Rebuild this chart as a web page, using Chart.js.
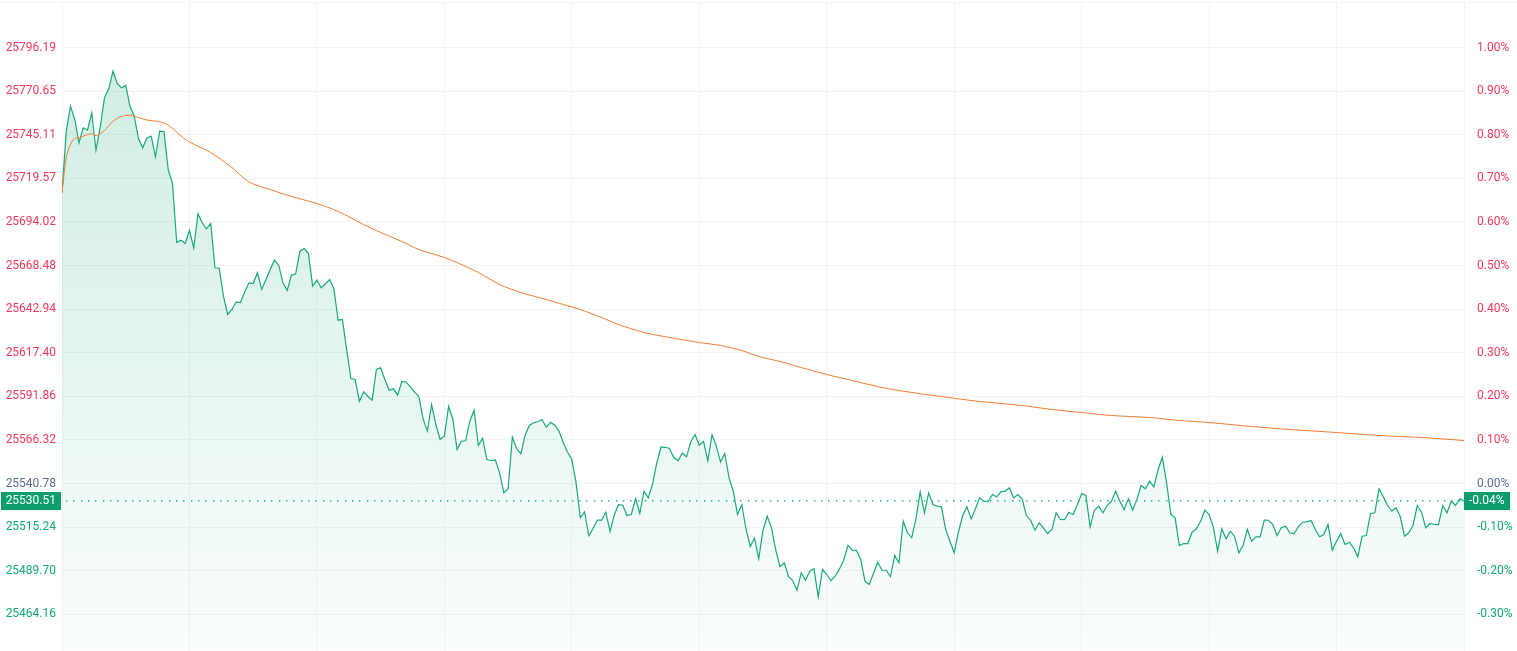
<!DOCTYPE html>
<html>
<head>
<meta charset="utf-8">
<script src="https://cdn.jsdelivr.net/npm/chart.js@4.4.1/dist/chart.umd.min.js"></script>
<style>
  html, body { margin: 0; padding: 0; background: #fff; }
  #wrap { width: 1517px; height: 651px; }
</style>
</head>
<body>
<div id="wrap"><canvas id="intraday" width="1517" height="651"></canvas></div>
<script>
// reference price (0.00%) and the last trade
const prevClose = 25540.78;
const lastPrice = 25530.51;
const lastChange = '-0.04%';

// axis ticks
const priceTicks = [25796.19, 25770.65, 25745.11, 25719.57, 25694.02, 25668.48, 25642.94,
  25617.40, 25591.86, 25566.32, 25540.78, 25515.24, 25489.70, 25464.16];
const pctTicks = [1.00, 0.90, 0.80, 0.70, 0.60, 0.50, 0.40, 0.30, 0.20, 0.10, 0.00, -0.10, -0.20, -0.30];

// one price per minute, 331 minutes
const prices = [
  25711.07, 25747.16, 25761.80, 25754.01, 25740.36, 25749.15, 25747.74, 25757.94, 25736.03, 25749.62,
  25766.72, 25772.00, 25782.31, 25775.10, 25772.58, 25773.93, 25761.80, 25755.94, 25742.88, 25737.43,
  25743.29, 25744.23, 25732.16, 25747.16, 25746.98, 25724.72, 25716.52, 25682.13, 25683.31, 25681.37,
  25689.16, 25678.62, 25698.77, 25693.50, 25689.98, 25693.09, 25667.14, 25666.90, 25650.50, 25639.78,
  25642.71, 25647.22, 25646.81, 25652.96, 25658.35, 25657.94, 25664.21, 25654.43, 25660.28, 25666.14,
  25671.59, 25668.66, 25658.35, 25653.84, 25662.80, 25663.62, 25676.86, 25678.44, 25675.51, 25656.36,
  25659.87, 25655.42, 25657.76, 25660.28, 25654.83, 25636.44, 25636.85, 25619.28, 25602.29, 25601.70,
  25588.99, 25594.50, 25591.92, 25589.58, 25607.56, 25608.56, 25601.70, 25595.43, 25596.25, 25592.51,
  25600.53, 25600.24, 25597.43, 25594.26, 25591.74, 25578.45, 25571.42, 25587.06, 25575.34, 25566.56,
  25568.49, 25586.06, 25578.27, 25560.70, 25565.56, 25565.79, 25577.28, 25583.72, 25563.04, 25567.32,
  25554.84, 25554.25, 25554.66, 25547.05, 25535.33, 25537.68, 25567.90, 25561.28, 25558.18, 25569.07,
  25574.76, 25576.34, 25577.10, 25578.09, 25573.76, 25576.69, 25574.93, 25571.42, 25564.62, 25559.12,
  25554.84, 25541.19, 25520.69, 25524.08, 25510.14, 25514.42, 25519.28, 25519.30, 25523.97, 25512.54,
  25522.33, 25528.48, 25527.89, 25522.03, 25522.62, 25531.82, 25523.38, 25536.27, 25532.40, 25540.49,
  25552.91, 25562.16, 25561.99, 25561.28, 25556.01, 25554.25, 25558.53, 25556.42, 25565.27, 25569.48,
  25563.22, 25565.50, 25554.08, 25569.31, 25562.86, 25553.49, 25558.35, 25544.41, 25536.27, 25522.62,
  25528.36, 25514.13, 25503.87, 25508.85, 25496.73, 25513.42, 25521.62, 25514.83, 25501.82, 25492.04,
  25494.33, 25486.30, 25483.96, 25478.28, 25488.47, 25484.13, 25489.41, 25490.81, 25474.41, 25490.40,
  25487.47, 25483.90, 25486.48, 25490.75, 25495.85, 25504.64, 25501.71, 25501.65, 25496.26, 25483.55,
  25481.61, 25488.06, 25494.68, 25489.99, 25489.95, 25486.13, 25498.60, 25494.33, 25518.70, 25511.90,
  25508.97, 25520.10, 25535.92, 25523.62, 25535.33, 25528.48, 25527.48, 25527.13, 25513.83, 25506.98,
  25500.18, 25512.25, 25522.03, 25527.10, 25520.05, 25525.96, 25532.40, 25530.41, 25530.35, 25534.34,
  25532.99, 25535.90, 25536.27, 25538.26, 25532.35, 25534.30, 25531.82, 25522.00, 25519.28, 25513.42,
  25517.76, 25514.83, 25511.49, 25513.83, 25523.62, 25519.69, 25519.65, 25523.97, 25522.62, 25528.48,
  25534.92, 25533.75, 25515.42, 25525.14, 25527.48, 25523.62, 25527.89, 25530.41, 25536.27, 25530.45,
  25525.55, 25531.82, 25525.14, 25531.41, 25539.61, 25537.68, 25542.13, 25538.85, 25548.98, 25556.19,
  25541.19, 25522.62, 25520.69, 25504.46, 25505.63, 25505.60, 25512.25, 25514.24, 25518.70, 25525.14,
  25522.62, 25515.42, 25501.12, 25514.24, 25508.39, 25512.84, 25509.91, 25500.18, 25504.46, 25513.83,
  25506.98, 25509.56, 25509.50, 25519.28, 25519.25, 25516.76, 25510.32, 25514.83, 25515.77, 25511.90,
  25511.31, 25515.42, 25518.11, 25518.34, 25519.11, 25513.83, 25509.56, 25510.90, 25516.76, 25501.71,
  25506.98, 25511.49, 25505.05, 25506.39, 25503.11, 25497.84, 25509.91, 25510.32, 25523.21, 25523.62,
  25537.68, 25532.99, 25527.89, 25524.55, 25526.55, 25521.27, 25509.91, 25511.90, 25516.18, 25527.89,
  25523.97, 25514.83, 25517.35, 25516.76, 25516.70, 25527.89, 25523.62, 25530.41, 25527.89, 25531.82,
  25530.51
];

// average price line, read at these minutes
const avgMinutes = [0, 1, 2, 3, 4, 5, 7, 8, 10, 12, 14, 16, 18, 20, 23, 25, 28, 30, 35, 40, 44, 49, 54,
  60, 65, 71, 75, 80, 84, 90, 94, 98, 103, 108, 114, 118, 122, 127, 131, 137, 143, 150, 155, 160, 164,
  169, 174, 180, 186, 193, 200, 207, 216, 226, 233, 240, 247, 256, 263, 270, 280, 289, 300, 310, 320, 330];
const avgPrices = [25711.07, 25731.75, 25739.37, 25742.88, 25743.29, 25744.23, 25745.69, 25744.64,
  25747.57, 25753.01, 25755.77, 25756.53, 25755.18, 25753.72, 25752.66, 25750.79, 25744.46, 25740.83,
  25734.68, 25725.89, 25717.40, 25713.01, 25708.90, 25704.80, 25700.12, 25692.50, 25687.82, 25682.54,
  25677.86, 25673.17, 25669.07, 25664.38, 25657.35, 25652.67, 25648.57, 25645.64, 25642.71, 25638.02,
  25633.92, 25629.24, 25626.31, 25623.38, 25621.62, 25618.69, 25615.18, 25612.25, 25608.73, 25604.63,
  25601.12, 25597.02, 25594.09, 25591.74, 25588.82, 25586.47, 25584.13, 25582.37, 25580.61, 25579.44,
  25577.69, 25576.51, 25574.17, 25572.41, 25570.66, 25568.90, 25567.73, 25565.97];

// visible price range of the plot
const yMin = 25442.66;
const yMax = 25822.26;

const RED = '#f3395b';
const FLAT = '#5b6b8c';
const GREEN = '#12a87a';

function tickColor(v, flat) {
  if (Math.abs(v - flat) < 1e-6) return FLAT;
  return v > flat ? RED : GREEN;
}

// drop the half-label padding Chart.js reserves at the ends of each axis
function noPad(s) {
  s.paddingTop = 0;
  s.paddingBottom = 0;
  s.paddingLeft = 0;
  s.paddingRight = 0;
}

Chart.defaults.font.family = 'Roboto';
Chart.defaults.font.size = 12;

const lastPriceMarker = {
  id: 'lastPriceMarker',
  beforeDraw(chart) {
    const { ctx, width } = chart;
    ctx.save();
    ctx.strokeStyle = '#f2f2f2';
    ctx.lineWidth = 1;
    ctx.beginPath();
    ctx.moveTo(0, 2.5);
    ctx.lineTo(width, 2.5);
    ctx.stroke();
    ctx.restore();
  },
  afterDatasetsDraw(chart) {
    const { ctx, chartArea, scales } = chart;
    const yPix = scales.y.getPixelForValue(lastPrice);
    const y = Math.round(yPix);
    ctx.save();
    // dotted price line
    ctx.fillStyle = '#2cb88c';
    for (let x = chartArea.left + 4; x < chartArea.right - 2; x += 7.33) {
      ctx.fillRect(Math.round(x), y - 1, 1.4, 1.6);
    }

    ctx.fillStyle = '#0c9f6c';
    ctx.fillRect(1, y - 9, 60, 18);
    ctx.fillRect(chartArea.right, y - 9, 46, 18);

    ctx.fillStyle = '#ffffff';
    ctx.font = '12px Roboto';
    ctx.textBaseline = 'middle';
    ctx.textAlign = 'right';
    ctx.fillText(lastPrice.toFixed(2), 56, y);
    ctx.textAlign = 'left';
    ctx.fillText(lastChange, chartArea.right + 5, y);
    ctx.restore();
  }
};

const ctx = document.getElementById('intraday');

new Chart(ctx, {
  type: 'line',
  data: {
    datasets: [
      {
        label: 'Average',
        data: avgMinutes.map((m, i) => ({ x: m, y: avgPrices[i] })),
        borderColor: '#f47b2a',
        borderWidth: 1,
        pointRadius: 0,
        tension: 0.3,
        fill: false,
        order: 1
      },
      {
        label: 'Price',
        data: prices.map((v, i) => ({ x: i, y: v })),
        borderColor: '#17a97b',
        borderWidth: 1.2,
        pointRadius: 0,
        tension: 0,
        fill: 'start',
        backgroundColor: (c) => {
          const area = c.chart.chartArea;
          if (!area) return 'rgba(20,168,120,0.1)';
          const g = c.chart.ctx.createLinearGradient(0, area.top, 0, area.bottom);
          g.addColorStop(0, 'rgba(20,168,120,0.22)');
          g.addColorStop(1, 'rgba(20,168,120,0.02)');
          return g;
        },
        order: 2
      }
    ]
  },
  options: {
    responsive: false,
    animation: false,
    events: [],
    layout: { padding: { top: 3, right: 0, bottom: 0, left: 0 } },
    plugins: {
      legend: { display: false },
      tooltip: { enabled: false }
    },
    scales: {
      x: {
        type: 'linear',
        min: 0,
        max: 330,
        ticks: { display: false, stepSize: 30 },
        grid: { color: '#f3f3f3', drawTicks: false },
        border: { display: false },
        afterFit: (s) => { s.height = 0; noPad(s); }
      },
      y: {
        position: 'left',
        min: yMin,
        max: yMax,
        afterBuildTicks: (s) => { s.ticks = priceTicks.map(v => ({ value: v })); },
        afterFit: (s) => { s.width = 62; noPad(s); },
        ticks: {
          padding: 6,
          callback: (v) => Number(v).toFixed(2),
          color: (c) => tickColor(c.tick.value, prevClose)
        },
        grid: { color: '#f3f3f3', drawTicks: false },
        border: { display: false }
      },
      y1: {
        position: 'right',
        min: (yMin / prevClose - 1) * 100,
        max: (yMax / prevClose - 1) * 100,
        afterBuildTicks: (s) => { s.ticks = pctTicks.map(v => ({ value: v })); },
        afterFit: (s) => { s.width = 53; noPad(s); },
        ticks: {
          padding: 5,
          callback: (v) => Number(v).toFixed(2) + '%',
          color: (c) => tickColor(c.tick.value, 0)
        },
        grid: { display: false },
        border: { display: false }
      }
    }
  },
  plugins: [lastPriceMarker]
});
</script>
</body>
</html>
